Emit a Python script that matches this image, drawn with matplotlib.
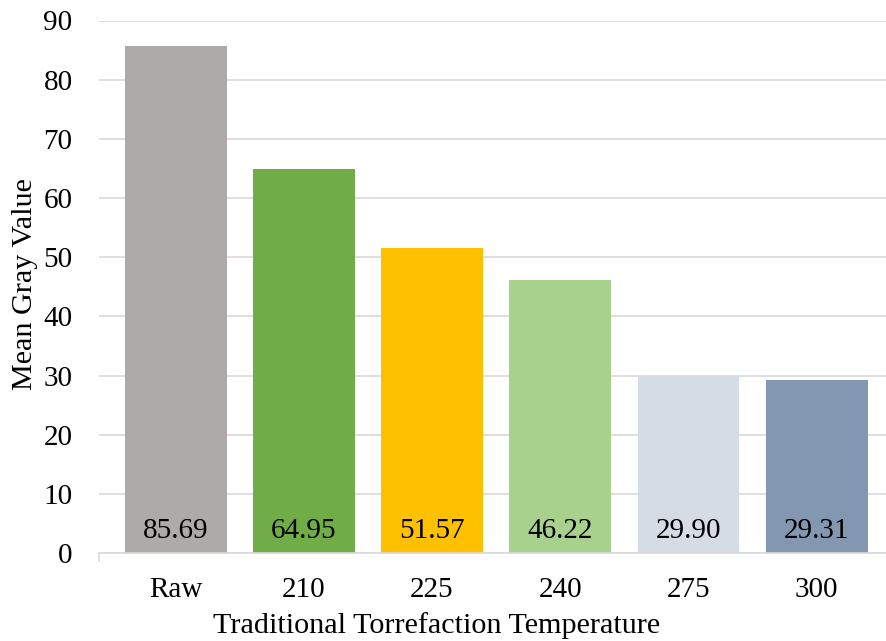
import matplotlib
matplotlib.use("Agg")
import matplotlib.pyplot as plt

categories = ["Raw", "210", "225", "240", "275", "300"]
values = [85.69, 64.95, 51.57, 46.22, 29.90, 29.31]
colors = ["#AEAAAA", "#70AD47", "#FFC000", "#A9D18E", "#D6DCE5", "#8497B0"]
yticks = [0, 10, 20, 30, 40, 50, 60, 70, 80, 90]

plt.rcParams["font.family"] = ["Liberation Serif", "DejaVu Serif"]

fig = plt.figure(figsize=(8.87, 6.41), dpi=100)
ax = fig.add_axes([99 / 887, 87.8 / 641, 1 - 99 / 887, 532.7 / 641])

x = list(range(len(categories)))
ax.bar(x, values, width=0.794, color=colors, zorder=3)

for xi, v in zip(x, values):
    ax.annotate(f"{v:.2f}", (xi, 0), xytext=(0, 16), textcoords="offset points",
                ha="center", va="center", fontsize=21, color="black", zorder=4)

ax.set_ylim(0, 90)
ax.set_xlim(-0.598, 5.549)
ax.set_yticks(yticks)
ax.set_xticks(x)
ax.set_xticklabels(categories)
ax.tick_params(axis="y", length=0, pad=19, labelsize=21)
ax.tick_params(axis="x", length=0, pad=17, labelsize=21)

ax.grid(axis="y", color="#D9D9D9", linewidth=1.2, zorder=0)
for side in ["left", "right", "top"]:
    ax.spines[side].set_visible(False)
ax.spines["bottom"].set_color("#D9D9D9")
ax.spines["bottom"].set_linewidth(1.2)
ax.spines["bottom"].set_zorder(5)

# small boundary tick at the left end of the category axis
ax.plot([-0.598, -0.598], [0, -1.4], color="#D9D9D9", linewidth=1.2,
        clip_on=False, zorder=5)

ax.set_ylabel("Mean Gray Value", fontsize=21.7)
ax.set_xlabel("Traditional Torrefaction Temperature", fontsize=21.7)
ax.yaxis.set_label_coords(-61 / 788, 0.505)
ax.xaxis.set_label_coords((437 - 99) / 788, -59 / 532.7)

fig.savefig("out.png", dpi=100)
